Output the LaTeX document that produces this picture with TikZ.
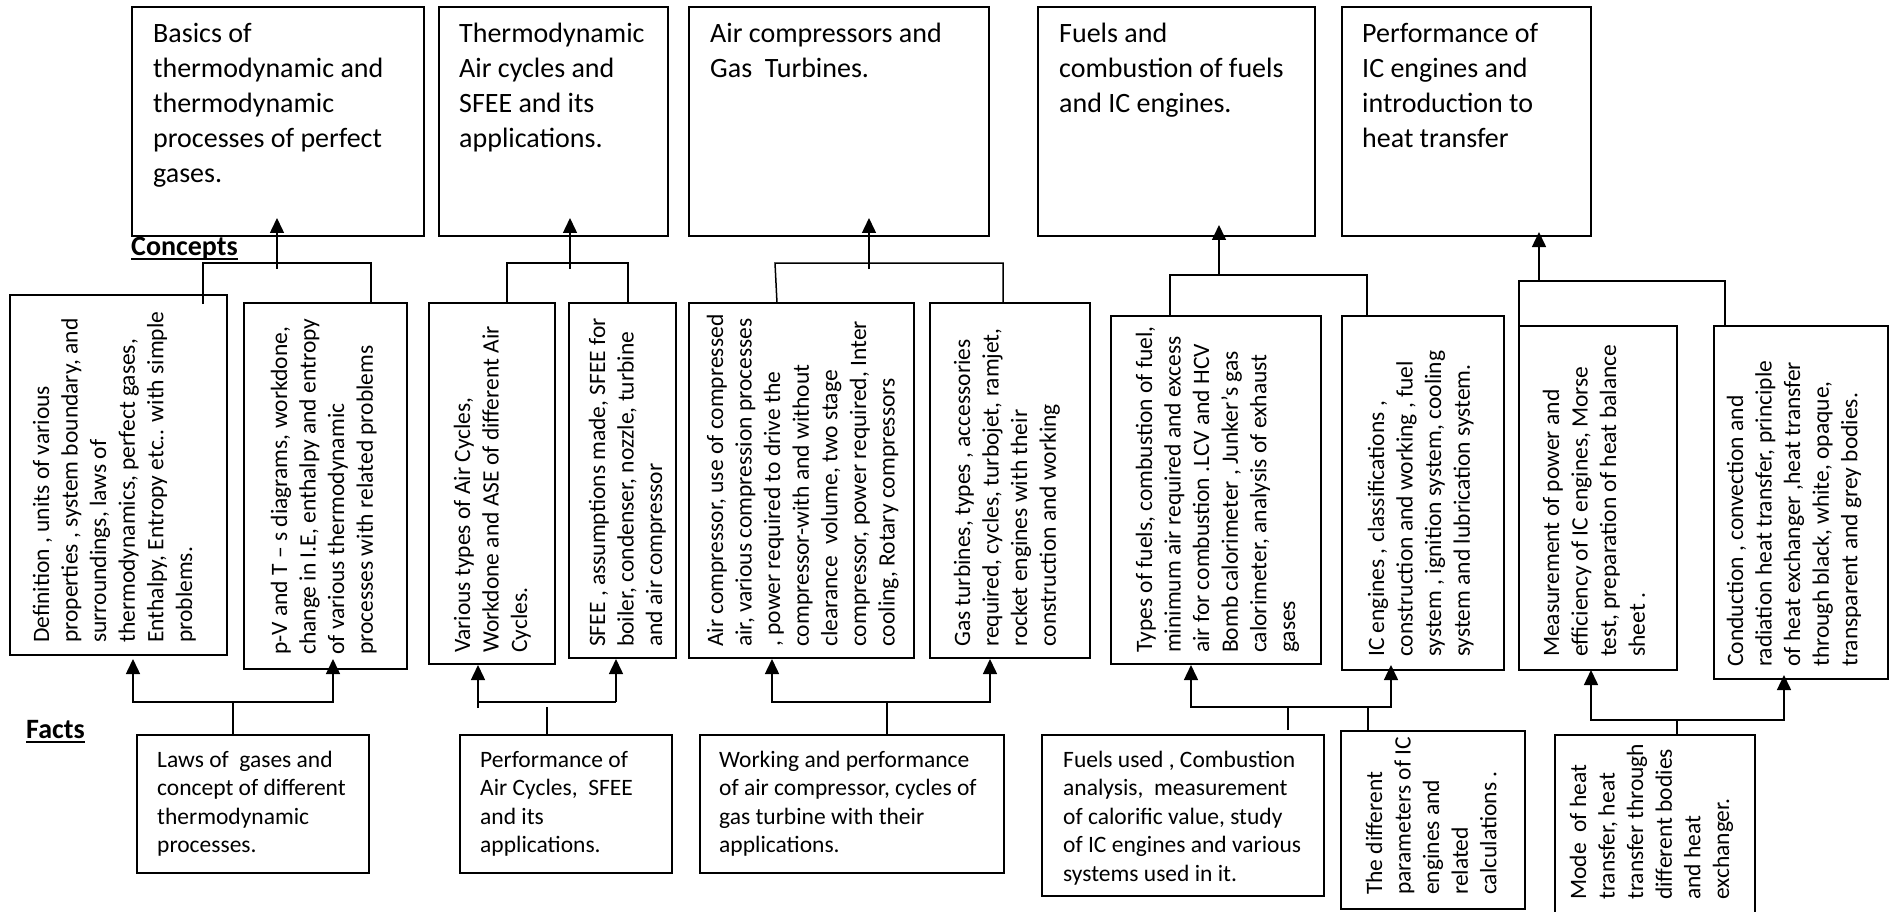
\documentclass[tikz,border=0pt]{standalone}
\usepackage{fontspec}
\setmainfont{Carlito}
\usetikzlibrary{arrows.meta,calc}

% multi-line text whose baseline is that of its first line
\newcommand\ml[1]{\vtop{\halign{##\hfil\cr#1\crcr}}}
% rectangle node from corner (x1,y1) to corner (x2,y2)
\newcommand\bx[5]{\node[box,minimum width={#4-#2},minimum height={#5-#3}] (#1) at ({(#2+#4)/2},{(#3+#5)/2}) {};}

\begin{document}
\begin{tikzpicture}[x=1pt,y=-1pt,
  box/.style={draw,line width=2pt,inner sep=0pt,outer sep=0pt,rectangle},
  conn/.style={line width=1.5pt},
  arr/.style={conn,-{Triangle[length=15pt,width=14pt]}},
  head/.style={font=\fontsize{28}{35}\selectfont,inner sep=0pt,anchor=base west},
  body/.style={font=\fontsize{23.5}{28.6}\selectfont,inner sep=0pt,anchor=base west},
  side/.style={body,rotate=90},
  tag/.style={font=\fontsize{28}{34}\selectfont\bfseries,inner sep=0pt,anchor=base west}]

\useasboundingbox[fill=white] (0,0) rectangle (1890,912);

% ---- unit boxes (top row)
\bx{b1}{132}{7}{424}{236}
\bx{b2}{439}{7}{668}{236}
\bx{b3}{689}{7}{989}{236}
\bx{b4}{1038}{7}{1315}{236}
\bx{b5}{1342}{7}{1591}{236}

\node[head] (b1t) at ($(b1.north west)+(21,36)$) {\ml{Basics of\cr thermodynamic and\cr thermodynamic\cr processes of perfect\cr gases.}};
\node[head] (b2t) at ($(b2.north west)+(20,36)$) {\ml{Thermodynamic\cr Air cycles and\cr SFEE and its\cr applications.}};
\node[head] (b3t) at ($(b3.north west)+(21,36)$) {\ml{Air compressors and\cr Gas\ \ Turbines.}};
\node[head] (b4t) at ($(b4.north west)+(21,36)$) {\ml{Fuels and\cr combustion of fuels\cr and IC engines.}};
\node[head] (b5t) at ($(b5.north west)+(20,36)$) {\ml{Performance of\cr IC engines and\cr introduction to\cr heat transfer}};

% ---- row labels
\node[tag] (concepts) at (131,255) {Concepts};
\draw[line width=2pt] ($(concepts.base west)+(0,4)$) -- ($(concepts.base east)+(0,4)$);
\node[tag] (facts) at (26,738) {Facts};
\draw[line width=2pt] ($(facts.base west)+(0,4)$) -- ($(facts.base east)+(0,4)$);

% ---- concept boxes (middle row)
\bx{c1}{10}{295}{227}{655}
\bx{c2}{244}{303}{407}{669}
\bx{c3}{429}{303}{555}{664}
\bx{c4}{569}{303}{676}{658}
\bx{c5}{689}{303}{914}{658}
\bx{c6}{930}{303}{1090}{658}
\bx{c7}{1111}{316}{1321}{664}
\bx{c8}{1342}{316}{1504}{670}
\bx{c9}{1519}{326}{1677}{670}
\bx{c10}{1714}{326}{1888}{679}

\node[side] (c1t) at ($(c1.south west)+(39,-12)$) {\ml{Definition , units of various\cr properties , system boundary, and\cr surroundings, laws of\cr thermodynamics, perfect gases,\cr Enthalpy, Entropy etc.. with simple\cr problems.}};
\node[side] (c2t) at ($(c2.south west)+(43,-14)$) {\ml{p-V and T – s diagrams, workdone,\cr change in I.E, enthalpy and entropy\cr of various thermodynamic\cr processes with related problems}};
\node[side] (c3t) at ($(c3.south west)+(41,-11)$) {\ml{Various types of Air Cycles,\cr Workdone and ASE of different Air\cr Cycles.}};
\node[side] (c4t) at ($(c4.south west)+(36,-11)$) {\ml{SFEE , assumptions made, SFEE for\cr boiler, condenser, nozzle, turbine\cr and air compressor}};
\node[side] (c5t) at ($(c5.south west)+(34,-11)$) {\ml{Air compressor, use of compressed\cr air, various compression processes\cr , power required to drive the\cr compressor-with and without\cr clearance\ \ volume, two stage\cr compressor, power required, Inter\cr cooling, Rotary compressors}};
\node[side] (c6t) at ($(c6.south west)+(40,-11)$) {\ml{Gas turbines, types , accessories\cr required, cycles, turbojet, ramjet,\cr rocket engines with their\cr construction and working}};
\node[side] (c7t) at ($(c7.south west)+(41,-11)$) {\ml{Types of fuels, combustion of fuel,\cr minimum air required and excess\cr air for combustion .LCV and HCV\cr Bomb calorimeter , Junker’s gas\cr calorimeter, analysis of exhaust\cr gases}};
\node[side] (c8t) at ($(c8.south west)+(42,-13)$) {\ml{IC engines , classifications ,\cr construction and working , fuel\cr system , ignition system, cooling\cr system and lubrication system.}};
\node[side] (c9t) at ($(c9.south west)+(40,-13)$) {\ml{Measurement of power and\cr efficiency of IC engines, Morse\cr test, preparation of heat balance\cr sheet .}};
\node[side] (c10t) at ($(c10.south west)+(29,-12)$) {\ml{Conduction , convection and\cr radiation heat transfer, principle\cr of heat exchanger ,heat transfer\cr through black, white, opaque,\cr transparent and grey bodies.}};

% ---- fact boxes (bottom row)
\bx{f1}{137}{735}{369}{873}
\bx{f2}{460}{735}{672}{873}
\bx{f3}{700}{735}{1004}{873}
\bx{f4}{1042}{735}{1324}{896}
\bx{f5}{1341}{731}{1525}{909}
\bx{f6}{1555}{735}{1755}{914}

\node[body] (f1t) at ($(f1.north west)+(20,32)$) {\ml{Laws of\ \ gases and\cr concept of different\cr thermodynamic\cr processes.}};
\node[body] (f2t) at ($(f2.north west)+(20,32)$) {\ml{Performance of\cr Air Cycles,\ \ SFEE\cr and its\cr applications.}};
\node[body] (f3t) at ($(f3.north west)+(19,32)$) {\ml{Working and performance\cr of air compressor, cycles of\cr gas turbine with their\cr applications.}};
\node[body] (f4t) at ($(f4.north west)+(21,32)$) {\ml{Fuels used , Combustion\cr analysis,\ \ measurement\cr of calorific value, study\cr of IC engines and various\cr systems used in it.}};
\node[side] (f5t) at ($(f5.south west)+(41,-14)$) {\ml{The different\cr parameters of IC\cr engines and\cr related\cr calculations .}};
\node[side] (f6t) at ($(f6.south west)+(31,-14)$) {\ml{Mode\ \ of heat\cr transfer, heat\cr transfer through\cr different bodies\cr and heat\cr exchanger.}};

% ---- concepts -> units
\coordinate (g1) at (277,263); \coordinate (g1l) at (203,263); \coordinate (g1r) at (371,263);
\draw[conn] ($(c1.north -| g1l)+(0,9)$) -- (g1l) -- (g1r) -- (g1r |- c2.north);
\draw[arr] ($(g1)+(0,6)$) -- ($(g1 |- b1.south)+(0,-18)$);

\coordinate (g2) at (570,263); \coordinate (g2l) at (507,263); \coordinate (g2r) at (628,263);
\draw[conn] (g2l |- c3.north) -- (g2l) -- (g2r) -- (g2r |- c4.north);
\draw[arr] ($(g2)+(0,6)$) -- ($(g2 |- b2.south)+(0,-18)$);

\coordinate (g3) at (869,263); \coordinate (g3l) at (775,263); \coordinate (g3r) at (1003,263);
\draw[conn] ($(c5.north -| g3l)+(2,0)$) -- (g3l) -- (g3r) -- (g3r |- c6.north);
\draw[arr] ($(g3)+(0,6)$) -- ($(g3 |- b3.south)+(0,-18)$);

\coordinate (g4) at (1219,275); \coordinate (g4l) at (1170,275); \coordinate (g4r) at (1367,275);
\draw[conn] (g4l |- c7.north) -- (g4l) -- (g4r) -- (g4r |- c8.north);
\draw[arr] (g4) -- ($(g4 |- b4.south)+(0,-11)$);

\coordinate (g5) at (1539,281); \coordinate (g5r) at (1725,281);
\draw[conn] (c9.north west) -- (c9.north west |- g5) -- (g5r) -- (g5r |- c10.north);
\draw[arr] (g5) -- ($(g5 |- b5.south)+(0,-4)$);

% ---- facts -> concepts
\coordinate (h1) at (233,702); \coordinate (h1l) at (133,702); \coordinate (h1r) at (333,702);
\draw[conn] (h1 |- f1.north) -- (h1);
\draw[arr] (h1) -- (h1l) -- ($(h1l |- c1.south)+(0,4)$);
\draw[arr] (h1) -- (h1r) -- ($(h1r |- c2.south)+(0,-10)$);

\coordinate (h2) at (547,702); \coordinate (h2l) at (478,702); \coordinate (h2r) at (616,702);
\draw[conn] (h2 |- f2.north) -- ($(h2)+(0,5)$);
\draw[conn] (h2l) -- (h2r);
\draw[arr] ($(h2l)+(0,6)$) -- ($(h2l |- c3.south)+(0,1)$);
\draw[arr] (h2r) -- ($(h2r |- c4.south)+(0,1)$);

\coordinate (h3) at (887,702); \coordinate (h3l) at (772,702); \coordinate (h3r) at (990,702);
\draw[conn] (h3 |- f3.north) -- (h3);
\draw[arr] (h3) -- (h3l) -- ($(h3l |- c5.south)+(0,1)$);
\draw[arr] (h3) -- (h3r) -- ($(h3r |- c6.south)+(0,1)$);

\coordinate (h4l) at (1191,707); \coordinate (h4r) at (1391,707);
\coordinate (s4a) at (1288,707); \coordinate (s4b) at (1368,707);
\draw[conn] ($(s4a |- f4.north)+(0,-5)$) -- (s4a);
\draw[conn] (s4b |- f5.north) -- (s4b);
\draw[arr] (s4a) -- (h4l) -- ($(h4l |- c7.south)+(0,1)$);
\draw[arr] (s4a) -- (h4r) -- ($(h4r |- c8.south)+(0,-5)$);

\coordinate (h5) at (1677,720); \coordinate (h5l) at (1591,720); \coordinate (h5r) at (1784,720);
\draw[conn] (h5 |- f6.north) -- (h5);
\draw[arr] (h5) -- (h5l) -- (h5l |- c9.south);
\draw[arr] (h5) -- (h5r) -- ($(h5r |- c10.south)+(0,-4)$);
\end{tikzpicture}
\end{document}
